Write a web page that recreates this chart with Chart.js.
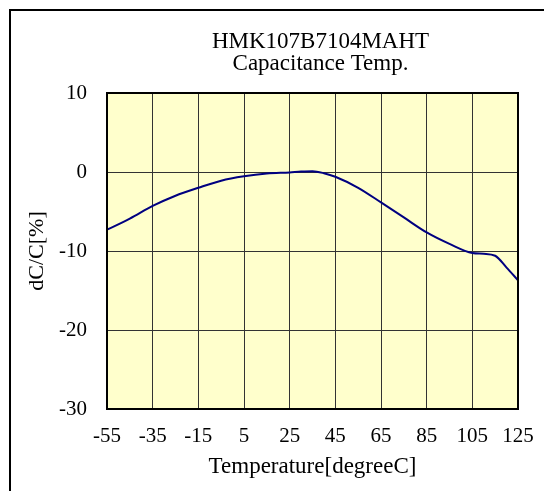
<!DOCTYPE html>
<html>
<head>
<meta charset="utf-8">
<script src="https://cdn.jsdelivr.net/npm/chart.js@4"></script>
<style>
    body { margin: 0; background: #fff; }
    canvas { display: block; }
</style>
</head>
<body>
<canvas id="tempChart" width="544" height="491"></canvas>
<script>
/* ===== Data ===== */
const titleLines = ['HMK107B7104MAHT', 'Capacitance Temp.'];
const xTicks = [-55, -35, -15, 5, 25, 45, 65, 85, 105, 125];
const yTicks = [-30, -20, -10, 0, 10];
const temps = [-55, -45, -35, -25, -15, -5, 5, 15, 25, 30, 35, 40, 45, 55, 65, 75, 85, 95, 105, 110, 115, 120, 125];
const dcc = [-7.3, -5.9, -4.3, -3.0, -2.0, -1.1, -0.55, -0.2, -0.05, 0.05, 0.1, -0.15, -0.6, -2.0, -3.85, -5.75, -7.65, -9.1, -10.25, -10.35, -10.6, -12.1, -13.7];

const serif = '"Liberation Serif", "Times New Roman", serif';

/* ===== Plugins ===== */
const frame = {
    id: 'frame',
    beforeDraw(chart){
        const {ctx, chartArea: a} = chart;
        ctx.save();
        ctx.fillStyle = '#FFFFCC';
        ctx.fillRect(a.left, a.top, a.right - a.left, a.bottom - a.top);
        // outer frame (only left and top edges are visible)
        ctx.strokeStyle = '#000';
        ctx.lineWidth = 2;
        ctx.strokeRect(10, 10, 700, 700);
        ctx.restore();
    },
    afterDraw(chart){
        const {ctx, chartArea: a} = chart;
        ctx.save();
        ctx.strokeStyle = '#000';
        ctx.lineWidth = 2;
        ctx.strokeRect(a.left, a.top, a.right - a.left, a.bottom - a.top);
        // chart title
        ctx.fillStyle = '#000';
        ctx.font = '23px ' + serif;
        ctx.textAlign = 'center';
        ctx.textBaseline = 'alphabetic';
        const cx = (a.left + a.right) / 2 + 8;
        titleLines.forEach((t, i) => ctx.fillText(t, cx, 48 + i * 22));
        ctx.restore();
    }
};

/* ===== Chart ===== */
new Chart(document.getElementById('tempChart'), {
    type: 'line',
    data: {
        datasets: [{
            data: temps.map((t, i) => ({x: t, y: dcc[i]})),
            borderColor: '#000080',
            borderWidth: 2,
            pointRadius: 0,
            cubicInterpolationMode: 'monotone',
            fill: false
        }]
    },
    options: {
        responsive: false,
        animation: false,
        devicePixelRatio: 1,
        layout: { padding: {top: 93, right: 26, bottom: 10, left: 10} },
        plugins: {
            legend: { display: false },
            title: { display: false },
            tooltip: { enabled: false }
        },
        scales: {
            x: {
                type: 'linear',
                min: -55,
                max: 125,
                afterBuildTicks: s => { s.ticks = xTicks.map(v => ({value: v})); },
                afterFit: s => { s.height = 72; s.paddingLeft = 0; s.paddingRight = 0; },
                grid: { color: '#333', lineWidth: 1, drawTicks: false },
                border: { display: false },
                ticks: { color: '#000', padding: 15, maxRotation: 0, autoSkip: false, font: {family: serif, size: 21} },
                title: {
                    display: true,
                    text: 'Temperature[degreeC]',
                    color: '#000',
                    padding: {top: 0, bottom: 0},
                    font: {family: serif, size: 23}
                }
            },
            y: {
                min: -30,
                max: 10,
                afterBuildTicks: s => { s.ticks = yTicks.map(v => ({value: v})); },
                afterFit: s => { s.width = 97; s.paddingTop = 0; s.paddingBottom = 0; },
                grid: { color: '#333', lineWidth: 1, drawTicks: false },
                border: { display: false },
                ticks: { color: '#000', padding: 20, font: {family: serif, size: 21} },
                title: {
                    display: true,
                    text: 'dC/C[%]',
                    color: '#000',
                    padding: {top: 14, bottom: 0},
                    font: {family: serif, size: 22}
                }
            }
        }
    },
    plugins: [frame]
});
</script>
</body>
</html>
